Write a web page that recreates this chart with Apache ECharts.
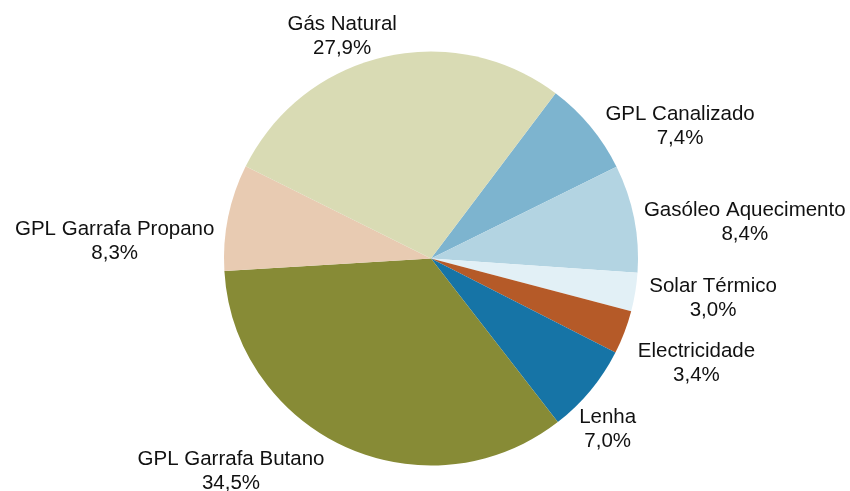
<!DOCTYPE html>
<html>
<head>
<meta charset="utf-8">
<script src="https://cdn.jsdelivr.net/npm/echarts@6/dist/echarts.min.js"></script>
<style>
  html, body { margin: 0; padding: 0; background: #fff; }
  #chart { width: 850px; height: 491px; }
</style>
</head>
<body>
<div id="chart"></div>
<script>
// fontes de energia para aquecimento (%)
const categories = ['GPL Canalizado', 'Gasóleo Aquecimento', 'Solar Térmico', 'Electricidade',
  'Lenha', 'GPL Garrafa Butano', 'GPL Garrafa Propano', 'Gás Natural']
const shares = [7.4, 8.4, 3.0, 3.4, 7.0, 34.5, 8.3, 27.9]
const colors = ['#7DB4CF', '#B3D4E2', '#E2F0F6', '#B55A28', '#1674A6', '#878B36', '#E8CBB2', '#D9DBB4']

const center = [431, 258.5]
const radius = 207
const startAngle = 53
const gap = 12
// pequenos acertos de posicao das etiquetas (como no original)
const labelNudge = [[23, 23], [0, 11], [3, 0], [6, 18], [-14, 16], [-71, 6], [-4, 31], [-26, 10]]

const chart = echarts.init(document.getElementById('chart'))

// angulo medio de cada fatia (graus, sentido horario a partir de startAngle)
const total = shares.reduce((a, b) => a + b, 0)
const midAngles = []
let acc = 0
shares.forEach(v => {
  const span = v / total * 360
  midAngles.push(startAngle - acc - span / 2)
  acc += span
})

const option = {
  animation: false,
  color: colors,
  series: [{
    type: 'pie',
    center: center,
    radius: radius,
    startAngle: startAngle,
    clockwise: true,
    avoidLabelOverlap: false,
    itemStyle: { borderWidth: 0 },
    label: {
      show: true,
      position: 'outside',
      fontFamily: 'Liberation Sans, Arial, sans-serif',
      fontSize: 20.5,
      lineHeight: 24,
      color: '#111',
      align: 'center',
      formatter: p => p.name + '\n' + p.value.toFixed(1).replace('.', ',') + '%'
    },
    labelLine: { show: false },
    labelLayout: params => {
      const i = params.dataIndex
      const a = midAngles[i] * Math.PI / 180
      const ux = Math.cos(a), uy = -Math.sin(a)
      const w = params.labelRect.width, h = params.labelRect.height
      let x = center[0] + (radius + gap) * ux + w / 2 * ux
      let y = center[1] + (radius + gap) * uy + h / 2 * uy
      x = Math.min(Math.max(x, w / 2 + 2), 850 - w / 2 - 2)
      y = Math.min(Math.max(y, h / 2 + 2), 491 - h / 2 - 2)
      return { x: x + labelNudge[i][0], y: y + labelNudge[i][1], align: 'center', verticalAlign: 'middle' }
    },
    data: categories.map((c, i) => ({ name: c, value: shares[i] }))
  }]
}

chart.setOption(option)
</script>
</body>
</html>
